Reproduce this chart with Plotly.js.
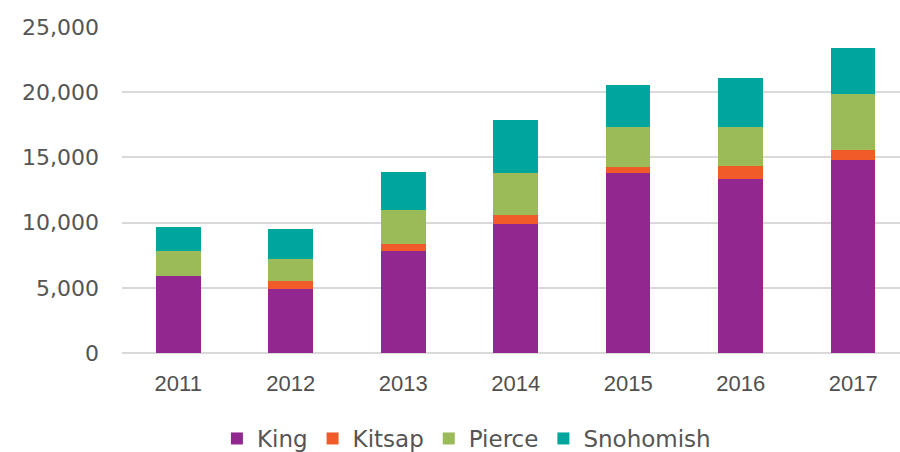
<!DOCTYPE html>
<html>
<head>
<meta charset="utf-8">
<script src="https://cdn.plot.ly/plotly-3.0.1.min.js"></script>
<style>html,body{margin:0;padding:0;background:#fff;}#chart{width:900px;height:452px;}</style>
</head>
<body>
<div id="chart"></div>
<script>
const years = ["2011", "2012", "2013", "2014", "2015", "2016", "2017"];
const king = [5900, 4940, 7800, 9920, 13820, 13360, 14790];
const kitsap = [0, 590, 590, 660, 410, 970, 760];
const pierce = [1900, 1710, 2570, 3240, 3110, 3010, 4290];
const snohomish = [1840, 2270, 2890, 4030, 3190, 3780, 3570];
const yTicks = [0, 5000, 10000, 15000, 20000, 25000];
const yTickText = ["0", "5,000", "10,000", "15,000", "20,000", "25,000"];

const names = ["King", "Kitsap", "Pierce", "Snohomish"];
const colors = ["#92278f", "#f15a29", "#9bbb59", "#00a59d"];
const series = [king, kitsap, pierce, snohomish];

const traces = series.map((vals, i) => ({
  type: "bar",
  name: names[i],
  x: years,
  y: vals,
  marker: {color: colors[i], line: {width: 0}},
  hoverinfo: "x+y+name"
}));

const layout = {
  width: 900,
  height: 452,
  barmode: "stack",
  bargap: 0.604,
  paper_bgcolor: "#ffffff",
  plot_bgcolor: "#ffffff",
  margin: {l: 122, r: 0, t: 26.6, b: 98.7, pad: 0, autoexpand: false},
  font: {family: "DejaVu Sans, Liberation Sans, sans-serif", color: "#555555"},
  xaxis: {
    type: "category",
    range: [-0.5, 6.416],
    automargin: false,
    showgrid: false,
    showline: false,
    zeroline: false,
    ticks: "",
    tickfont: {family: "Liberation Sans, Arial, sans-serif", size: 22, color: "#505050"},
    ticklabelstandoff: 15
  },
  yaxis: {
    range: [0, 25000],
    automargin: false,
    tickmode: "array",
    tickvals: yTicks,
    ticktext: yTickText,
    showgrid: true,
    gridcolor: "#d9d9d9",
    gridwidth: 2,
    zeroline: true,
    zerolinecolor: "#d9d9d9",
    zerolinewidth: 2,
    showline: false,
    ticks: "",
    tickfont: {family: "DejaVu Sans, sans-serif", size: 22, color: "#555555"},
    ticklabelstandoff: 22
  },
  legend: {
    orientation: "h",
    xref: "paper",
    yref: "paper",
    x: 0.122,
    xanchor: "left",
    y: -0.2623,
    yanchor: "middle",
    font: {family: "DejaVu Sans, sans-serif", size: 23, color: "#555555"},
    itemwidth: 30,
    traceorder: "normal",
    bgcolor: "rgba(0,0,0,0)"
  },
  showlegend: true
};

Plotly.newPlot("chart", traces, layout, {displayModeBar: false, staticPlot: true});
</script>
</body>
</html>
